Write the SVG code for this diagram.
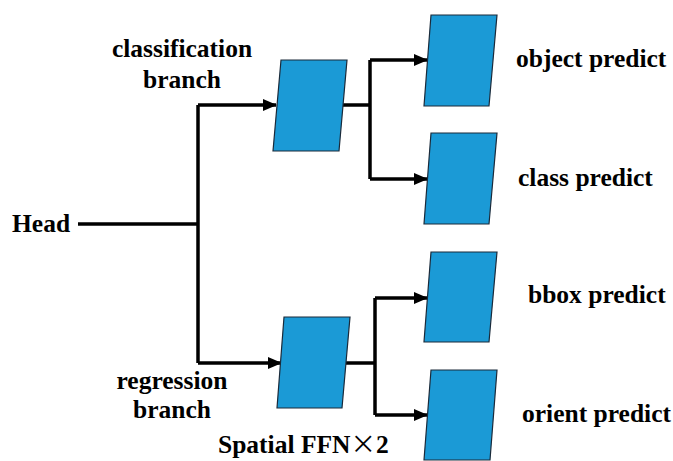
<svg xmlns="http://www.w3.org/2000/svg" width="673" height="461" viewBox="0 0 673 461">
<defs>
<style>
.t{font-family:"Liberation Serif","Times New Roman",serif;font-weight:bold;font-size:25.5px;fill:#000}
.x{font-family:"Noto Sans CJK SC",sans-serif;font-weight:normal}
.p{fill:#1b9ad6;stroke:#1a2a3a;stroke-width:1.2}
.l{fill:none;stroke:#000;stroke-width:3.5}
</style>
<marker id="ah" markerUnits="userSpaceOnUse" markerWidth="14" markerHeight="12" refX="13" refY="6" orient="auto">
<path d="M0,0 L14,6 L0,12 Z" fill="#000"/>
</marker>
</defs>
<rect width="673" height="461" fill="#fff"/>
<g id="connectors">
<path class="l" d="M78,224 H198"/>
<path class="l" d="M198,105 V363"/>
<path class="l" d="M198,105 H276" marker-end="url(#ah)"/>
<path class="l" d="M198,363 H281" marker-end="url(#ah)"/>
<path class="l" d="M342,105 H370"/>
<path class="l" d="M370,60 V179"/>
<path class="l" d="M370,60 H427" marker-end="url(#ah)"/>
<path class="l" d="M370,179 H427" marker-end="url(#ah)"/>
<path class="l" d="M346,363 H375"/>
<path class="l" d="M375,298 V415"/>
<path class="l" d="M375,298 H427" marker-end="url(#ah)"/>
<path class="l" d="M375,415 H427" marker-end="url(#ah)"/>
</g>
<g id="head"><text class="t" x="12" y="232">Head</text></g>
<g id="cls-label"><text class="t" x="182" y="57" text-anchor="middle">classification</text><text class="t" x="182" y="88" text-anchor="middle">branch</text></g>
<g id="reg-label"><text class="t" x="172" y="389" text-anchor="middle">regression</text><text class="t" x="172" y="418" text-anchor="middle">branch</text></g>
<g id="ffn-cls"><polygon class="p" points="281,60 347,60 339,151 273,151"/></g>
<g id="ffn-reg"><polygon class="p" points="284,317 350,317 342,408 277,408"/></g>
<g id="object"><polygon class="p" points="431,15 497,15 489,106 424,106"/><text class="t" x="516" y="67">object predict</text></g>
<g id="class"><polygon class="p" points="431,133 497,133 489,224 424,224"/><text class="t" x="518" y="186">class predict</text></g>
<g id="bbox"><polygon class="p" points="431,252 497,252 489,342 424,342"/><text class="t" x="528" y="303">bbox predict</text></g>
<g id="orient"><polygon class="p" points="431,370 497,370 490,460 424,460"/><text class="t" x="522" y="422">orient predict</text></g>
<g id="ffn-label"><text class="t" x="218" y="453">Spatial FFN<tspan class="x">×</tspan>2</text></g>
</svg>
